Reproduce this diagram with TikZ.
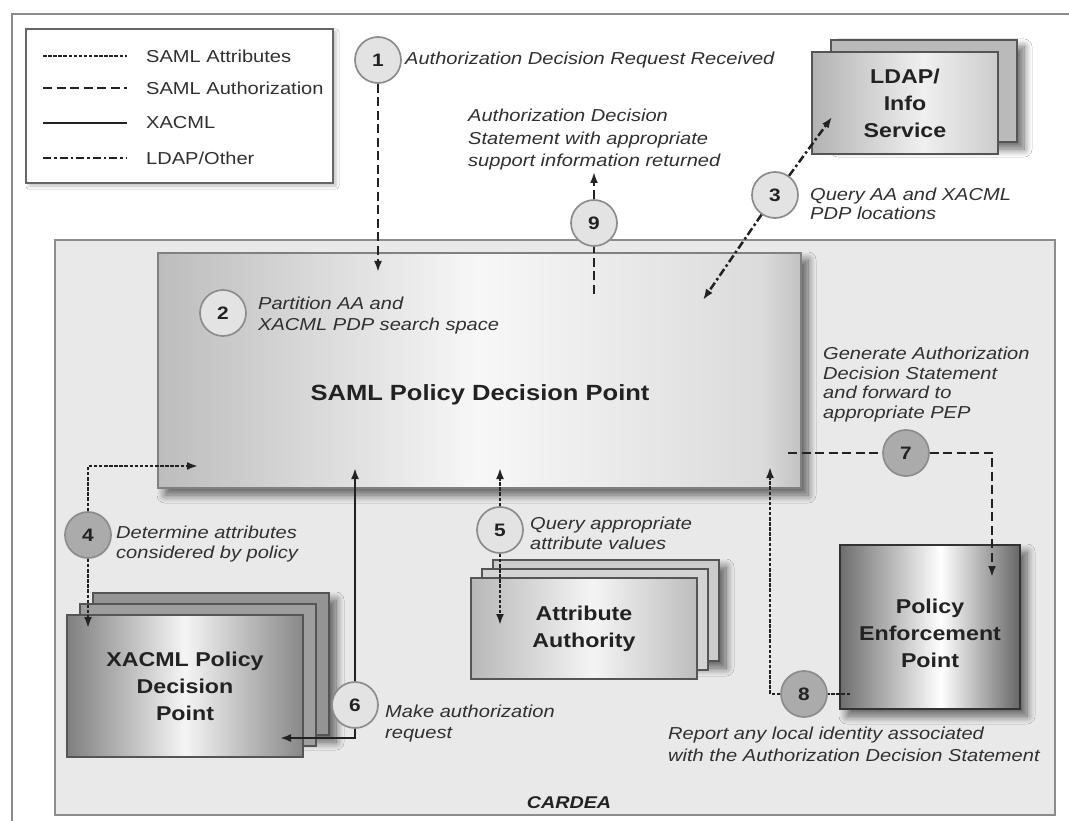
\documentclass[tikz,border=0pt]{standalone}
\usepackage{fontspec}
\setmainfont{Liberation Sans}[FakeStretch=1.16]
\usetikzlibrary{arrows.meta,shadows.blur,calc}

\definecolor{ink}{HTML}{222222}
\definecolor{labelink}{HTML}{303030}
\definecolor{framegray}{HTML}{8C8C8C}
\definecolor{cardeafill}{HTML}{E9E9E9}
\definecolor{boxedge}{HTML}{555555}

% metallic fills (the middle half of each shading spans the box)
\pgfdeclarehorizontalshading{samlshade}{100bp}{color(0bp)=(black!26); color(25bp)=(black!26); color(50bp)=(black!3); color(62bp)=(black!9); color(72bp)=(black!14); color(75bp)=(black!24); color(100bp)=(black!24)}
\pgfdeclarehorizontalshading{xacmlshade}{100bp}{color(0bp)=(black!50); color(25bp)=(black!50); color(50bp)=(black!4); color(75bp)=(black!47); color(100bp)=(black!47)}
\pgfdeclarehorizontalshading{pepshade}{100bp}{color(0bp)=(black!57); color(25bp)=(black!57); color(53bp)=(white); color(75bp)=(black!60); color(100bp)=(black!60)}
\pgfdeclarehorizontalshading{aashade}{100bp}{color(0bp)=(black!28); color(25bp)=(black!28); color(52bp)=(black!4); color(75bp)=(black!26); color(100bp)=(black!26)}
\pgfdeclarehorizontalshading{ldapshade}{100bp}{color(0bp)=(black!30); color(25bp)=(black!30); color(55bp)=(black!6); color(75bp)=(black!20); color(100bp)=(black!20)}

\begin{document}
\begin{tikzpicture}[x=1pt,y=-1pt,
  >={Latex[length=11pt,width=8pt]},
  boxshadow/.style={blur shadow={shadow xshift=7pt,shadow yshift=-7pt,shadow blur radius=8pt,shadow blur steps=10,shadow opacity=60}},
  box/.style={rectangle,draw=boxedge,line width=1.3pt,inner sep=0pt,align=center,text=ink,
    font=\fontsize{20}{27}\selectfont\bfseries},
  stepc/.style={circle,draw=framegray,line width=1.7pt,fill=black!11,minimum size=46pt,inner sep=0pt,
    text=ink,font=\fontsize{18}{18}\selectfont\bfseries},
  stepd/.style={stepc,fill=black!33},
  note/.style={anchor=west,align=left,inner sep=0pt,text=labelink,font=\fontsize{17.3}{21}\selectfont\itshape},
  legtext/.style={anchor=west,inner sep=0pt,text=labelink,font=\fontsize{17.3}{17}\selectfont},
  conn/.style={draw=ink,line width=2.5pt},
  attr/.style={conn,dash pattern=on 3.5pt off 1.6pt},
  authz/.style={conn,dash pattern=on 9pt off 4.5pt},
  xacml/.style={conn,line width=2.1pt},
  ldap/.style={conn,dash pattern=on 8pt off 3pt on 2.5pt off 3pt},
]
\useasboundingbox (0,0) rectangle (1069,821);
\clip (0,0) rectangle (1069,821);
\fill[white] (0,0) rectangle (1069,821);

% outer frame
\draw[framegray,line width=1.4pt] (12,14) rectangle (1100,860);

% legend
\node[rectangle,draw=black!60,line width=1.4pt,fill=white,minimum width=307pt,minimum height=154pt,
  blur shadow={shadow xshift=3pt,shadow yshift=-3pt,shadow blur radius=3pt,shadow opacity=25}] (legend) at (179.5,106) {};
\draw[attr] (43,56) -- (127,56);
\draw[authz] (43,88) -- (127,88);
\draw[xacml] (43,123) -- (127,123);
\draw[ldap] (43,158) -- (127,158);
\node[legtext] (legA) at (146,56) {SAML Attributes};
\node[legtext] (legB) at (146,88) {SAML Authorization};
\node[legtext] (legC) at (146,123) {XACML};
\node[legtext] (legD) at (146,158) {LDAP/Other};

% CARDEA domain
\node[rectangle,draw=framegray,line width=1.4pt,fill=cardeafill,minimum width=1000pt,minimum height=575pt] (cardea) at (555,527.5) {};
\node[inner sep=0pt,text=ink,font=\fontsize{17}{17}\selectfont\bfseries\itshape] (cardeaname) at (569,803) {CARDEA};

% SAML policy decision point
\node[box,draw=black!50,shading=samlshade,boxshadow,minimum width=643pt,minimum height=235pt] (saml) at (479.5,370.5) {};
\node[inner sep=0pt,text=ink,font=\fontsize{22}{22}\selectfont\bfseries] (samlname) at (480,395) {SAML Policy Decision Point};

% LDAP / info service
\node[box,fill=black!27,boxshadow,minimum width=186pt,minimum height=102pt] (ldapB) at (924,91) {};
\node[box,shading=ldapshade,minimum width=186pt,minimum height=102pt] (ldap) at (905,103) {LDAP/\\Info\\Service};

% XACML policy decision point
\node[box,fill=black!42,boxshadow,minimum width=236pt,minimum height=142pt] (xacmlB) at (211,664) {};
\node[box,fill=black!38,minimum width=236pt,minimum height=142pt] (xacmlM) at (198,675) {};
\node[box,shading=xacmlshade,minimum width=236pt,minimum height=142pt] (xacml) at (185,686) {XACML Policy\\Decision\\Point};

% attribute authority
\node[box,fill=black!20,boxshadow,minimum width=226pt,minimum height=101pt] (aaB) at (606,610.5) {};
\node[box,fill=black!17,minimum width=226pt,minimum height=101pt] (aaM) at (595,619.5) {};
\node[box,shading=aashade,minimum width=226pt,minimum height=101pt] (aa) at (584,628.5) {Attribute\\Authority};

% policy enforcement point
\node[box,draw=black!80,line width=1.6pt,shading=pepshade,boxshadow,minimum width=180pt,minimum height=164pt] (pep) at (930,627) {};
\node[inner sep=0pt,align=center,text=ink,font=\fontsize{20}{27}\selectfont\bfseries] (pepname) at (930,633) {Policy\\Enforcement\\Point};

% step markers
\node[stepc] (c1) at (378,60) {1};
\node[stepc] (c2) at (223,313) {2};
\node[stepc] (c3) at (775,195) {3};
\node[stepd] (c4) at (88,535) {4};
\node[stepc] (c5) at (500,530) {5};
\node[stepc] (c6) at (355,705) {6};
\node[stepd] (c7) at (906,453) {7};
\node[stepd] (c8) at (804,694) {8};
\node[stepc] (c9) at (594,223) {9};

% connector ends
\coordinate (t1) at (378,272);
\coordinate (s9) at (594,294);
\coordinate (t9) at (594,172);
\coordinate (t3a) at (832,117);
\coordinate (t3b) at (703,300);
\coordinate (t4a) at (198,466);
\coordinate (t4b) at (88,628);
\coordinate (t5a) at (500,468);
\coordinate (t5b) at (500,625);
\coordinate (t6a) at (355,468);
\coordinate (t6b) at (280,738);
\coordinate (s7) at (788,453);
\coordinate (t7) at (992,577);
\coordinate (s8) at (850,694);
\coordinate (t8) at (770,467);

% connectors
\draw[authz,->] (c1) -- (t1);
\draw[authz] (s9) -- (c9);
\draw[authz,->] (c9) -- (t9);
\draw[ldap,->] (c3) -- (t3a);
\draw[ldap,->] (c3) -- (t3b);
\draw[attr,->] (c4.north) |- (t4a);
\draw[attr,->] (c4) -- (t4b);
\draw[attr,->] (c5) -- (t5a);
\draw[attr,->] (c5) -- (t5b);
\draw[xacml,->] (c6) -- (t6a);
\draw[xacml,->] (c6.south) |- (t6b);
\draw[authz] (s7) -- (c7);
\draw[authz,->] (c7.east) -| (t7);
\draw[attr] (s8) -- (c8);
\draw[attr,->] (c8.west) -| (t8);

% step descriptions
\node[note] (n1) at (405,60) {Authorization Decision Request Received};
\node[note] (n2) at (258,316) {Partition AA and\\XACML PDP search space};
\node[note,font=\fontsize{17.3}{19}\selectfont\itshape] (n3) at (810,204) {Query AA and XACML\\PDP locations};
\node[note,font=\fontsize{17.3}{19.5}\selectfont\itshape] (n4) at (116,544) {Determine attributes\\considered by policy};
\node[note,font=\fontsize{17.3}{20}\selectfont\itshape] (n5) at (530,533) {Query appropriate\\attribute values};
\node[note] (n6) at (385,724) {Make authorization\\request};
\node[note,font=\fontsize{17.3}{19.7}\selectfont\itshape] (n7) at (823,384.5) {Generate Authorization\\Decision Statement\\and forward to\\appropriate PEP};
\node[note,font=\fontsize{17.3}{22}\selectfont\itshape] (n8) at (668,744) {Report any local identity associated\\with the Authorization Decision Statement};
\node[note,font=\fontsize{17.3}{22.5}\selectfont\itshape] (n9) at (468,140) {Authorization Decision\\Statement with appropriate\\support information returned};
\end{tikzpicture}
\end{document}
